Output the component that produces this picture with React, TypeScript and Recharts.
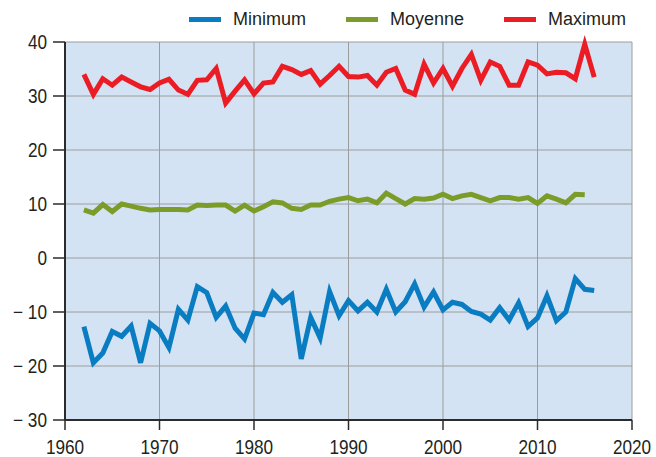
import { LineChart, Line, XAxis, YAxis, CartesianGrid, Legend } from 'recharts';

const years = Array.from({ length: 55 }, (_, i) => 1962 + i);

const minimum = [
  -12.7, -19.4, -17.6, -13.6, -14.5, -12.6, -19.4, -12.1,
  -13.5, -16.6, -9.5, -11.5, -5.3, -6.4, -11.0, -8.9, -13.0, -15.0,
  -10.2, -10.5, -6.4, -8.2, -6.8, -18.7, -11.0, -14.8, -6.2, -10.7,
  -7.9, -9.8, -8.2, -10.0, -5.8, -10.0, -8.1, -4.8, -9.1, -6.3,
  -9.6, -8.2, -8.6, -9.9, -10.4, -11.5, -9.2, -11.5, -8.3, -12.7,
  -11.1, -7.0, -11.6, -10.0, -3.8, -5.8, -6.0,
];

const moyenne = [
  8.9, 8.3, 9.9, 8.6, 10.0, 9.6, 9.2, 8.9,
  9.0, 9.0, 9.0, 8.9, 9.8, 9.7, 9.8, 9.8, 8.7, 9.8,
  8.7, 9.5, 10.4, 10.2, 9.2, 9.0, 9.8, 9.8, 10.5, 10.9,
  11.2, 10.6, 10.9, 10.2, 12.0, 11.0, 10.0, 11.0, 10.9, 11.1,
  11.8, 11.0, 11.5, 11.8, 11.2, 10.6, 11.2, 11.2, 10.9, 11.2,
  10.1, 11.5, 10.9, 10.2, 11.8, 11.7, null,
];

const maximum = [
  34.0, 30.3, 33.2, 32.0, 33.5, 32.6, 31.7, 31.2,
  32.4, 33.1, 31.1, 30.3, 32.9, 33.0, 35.1, 28.7, 30.9, 33.0,
  30.4, 32.4, 32.6, 35.5, 34.9, 34.0, 34.7, 32.2, 33.8, 35.5,
  33.6, 33.5, 33.8, 32.0, 34.4, 35.1, 31.1, 30.3, 35.9, 32.4,
  35.1, 31.8, 35.1, 37.7, 32.9, 36.3, 35.5, 32.0, 32.0, 36.3,
  35.7, 34.1, 34.4, 34.3, 33.2, 39.6, 33.5,
];

const xTicks = [1960, 1970, 1980, 1990, 2000, 2010, 2020];
const yTicks = [-30, -20, -10, 0, 10, 20, 30, 40];

const series = [
  { key: 'min', name: 'Minimum', color: '#0a7dc2' },
  { key: 'moy', name: 'Moyenne', color: '#7b9c28' },
  { key: 'max', name: 'Maximum', color: '#ec1c24' },
];

const data = years.map((year, i) => ({
  year,
  min: minimum[i],
  moy: moyenne[i],
  max: maximum[i],
}));

const font = 'Liberation Sans, Arial, sans-serif';
const textColor = '#231f20';
const axisColor = '#2b2b2b';

const LegendContent = () => (
  <div style={{ display: 'flex', fontFamily: font, fontSize: 18, color: textColor }}>
    {series.map((s) => (
      <div key={s.key} style={{ display: 'flex', alignItems: 'center', marginRight: 40 }}>
        <span style={{ width: 32, height: 5, background: s.color, marginRight: 12 }} />
        <span>{s.name}</span>
      </div>
    ))}
  </div>
);

const fmtY = (v: number) => (v < 0 ? `\u2212 ${Math.abs(v)}` : `${v}`);

// tick labels in the source are a condensed face, so squeeze them a bit
const NarrowTick = ({ x, y, payload, textAnchor, dy, fmt }: any) => (
  <text
    transform={`translate(${x},${y}) scale(0.86,1)`}
    textAnchor={textAnchor}
    dy={dy}
    fill={textColor}
    fontSize={20}
    fontFamily={font}
  >
    {fmt ? fmt(payload.value) : payload.value}
  </text>
);

export default function App() {
  return (
    <div style={{ position: 'absolute', left: 0, top: 0, width: 656, height: 457, background: '#fff' }}>
      <LineChart width={656} height={457} data={data} margin={{ top: 42, right: 24, bottom: 7, left: 0 }}>
        <CartesianGrid stroke="#9c9c9c" strokeWidth={1} fill="#d4e3f3" fillOpacity={1} />
        <XAxis
          dataKey="year"
          type="number"
          domain={[1960, 2020]}
          ticks={xTicks}
          height={30}
          tickSize={10}
          tickMargin={10}
          axisLine={{ stroke: axisColor, strokeWidth: 2 }}
          tickLine={{ stroke: axisColor, strokeWidth: 1.5 }}
          tick={<NarrowTick dy="0.71em" />}
        />
        <YAxis
          type="number"
          domain={[-30, 40]}
          ticks={yTicks}
          width={65}
          tickSize={12}
          tickMargin={6}
          axisLine={{ stroke: axisColor, strokeWidth: 2 }}
          tickLine={{ stroke: axisColor, strokeWidth: 1.5 }}
          tick={<NarrowTick dy="0.355em" fmt={fmtY} />}
        />
        <Legend
          layout="horizontal"
          verticalAlign="middle"
          align="center"
          wrapperStyle={{ top: 9, left: 189, width: 460 }}
          content={<LegendContent />}
        />
        {series.map((s) => (
          <Line
            key={s.key}
            dataKey={s.key}
            name={s.name}
            type="linear"
            stroke={s.color}
            strokeWidth={5}
            strokeLinejoin="miter"
            dot={false}
            activeDot={false}
            isAnimationActive={false}
          />
        ))}
      </LineChart>
    </div>
  );
}
